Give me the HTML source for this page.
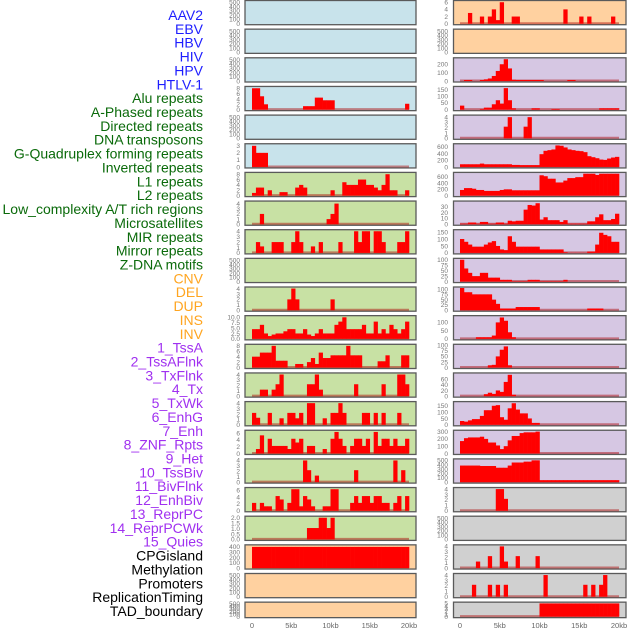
<!DOCTYPE html>
<html><head><meta charset="utf-8"><style>
html,body{margin:0;padding:0;background:#fff;}
svg{display:block;font-family:"Liberation Sans",sans-serif;}
</style></head><body>
<svg id="chart" width="630" height="630" viewBox="0 0 630 630" xmlns="http://www.w3.org/2000/svg"></svg>
<script>
const labels = ["AAV2","EBV","HBV","HIV","HPV","HTLV-1","Alu repeats","A-Phased repeats","Directed repeats","DNA transposons","G-Quadruplex forming repeats","Inverted repeats","L1 repeats","L2 repeats","Low_complexity A/T rich regions","Microsatellites","MIR repeats","Mirror repeats","Z-DNA motifs","CNV","DEL","DUP","INS","INV","1_TssA","2_TssAFlnk","3_TxFlnk","4_Tx","5_TxWk","6_EnhG","7_Enh","8_ZNF_Rpts","9_Het","10_TssBiv","11_BivFlnk","12_EnhBiv","13_ReprPC","14_ReprPCWk","15_Quies","CPGisland","Methylation","Promoters","ReplicationTiming","TAD_boundary"];
const labelGroups = ["v","v","v","v","v","v","r","r","r","r","r","r","r","r","r","r","r","r","r","s","s","s","s","s","c","c","c","c","c","c","c","c","c","c","c","c","c","c","c","k","k","k","k","k"];
const xTickValues = [0,5,10,15,20];
const xTickLabels = ["0","5kb","10kb","15kb","20kb"];

const L3 = [8,8,5,2,0,0,0,0,0,0, 0,0,0,1.3,1.3,1.3,4.5,4.5,3.5,3.5, 3.5,0,0,0,0,0,0,0,0,0, 0,0,0,0,0,0,0,0,0,2.2];
const L5 = [3,2,2,2,0,0,0,0,0,0, 0,0,0,0,0,0,0,0,0,0, 0,0,0,0,0,0,0,0,0,0, 0,0,0,0,0,0,0,0,0,0];
const L6 = [1,3,3,0,2,0,0,1.3,1.3,0, 0,3,4,3,0,0,0,0,0,0, 2,0,0,5,4,4,4,6,6,4, 4,3,2,4,8,2,2,0,0,2];
const L7 = [0,0,2,0,0,0,0,0,0,0, 0,0,0,0,0,0,0,0,0,1, 2,4,0,0,0,0,0,0,0,0, 0,0,0,0,0,0,0,0,0,0];
const L8 = [0,2,1.2,0,0,2,2,2,0,0, 2,4,2,0,0,1.2,0,2,0,0, 0,0,2,0,0,0,4,2,4,4, 0,4,4,2,0,0,0,2,2,4];
const L10 = [0,0,0,0,0,0,0,0,0,2, 4,2,0,0,0,0,0,0,0,0, 2,0,0,0,0,0,0,0,0,0, 0,0,0,0,0,0,0,0,0,0];
const L11 = [4.5,4.5,6.5,2.5,1.3,2,2.5,2.5,3.5,4.5, 4.5,2.5,2.5,4.5,2,1.3,2.5,4.5,2.5,2.5, 2.5,6.5,8,10,4.5,4.5,4.5,4.5,6.5,2.5, 2.5,8,2.5,4.5,2.5,6.5,4.5,2.5,4.5,8];
const L12 = [4,4,5.5,5.5,5.5,8,2.5,2.5,2.5,0, 0,1.3,1.3,0,2,3.5,1.3,5.5,3.5,3.5, 4.5,4.5,4.5,4.5,8,4.5,4.5,4.5,0,0, 0,0,2.3,2.3,4.5,0,0,0,4.5,4.5];
const L13 = [0,0,1.2,1.2,0,1.2,2.2,4,0,0, 0,0,0,0,2.2,2.2,4,1.2,0,0, 0,0,0,0,0,0,2.2,0,0,0, 0,0,0,2.2,0,0,0,4,4,2.2];
const L14 = [2.2,1.3,0,0,2.2,0,0,1.2,0,2.2, 2.2,1.2,2.2,0,4,4,0,0,1.2,0, 2.2,2.2,4,2.2,0,0,0,0,2.2,2.2, 0,2.2,0,2.2,0,0,0,2.2,0,0];
const L15 = [0,1.3,5.3,0,4.3,2.2,2.2,2.2,2.2,1.3, 4.3,3.2,4.3,0,2.2,2.2,0,0,1.3,0, 4.3,6.3,4.3,2.2,0,2.2,4.3,4.3,2.2,4.3, 0,6.3,2.2,4.3,4.3,2.2,4.3,2.2,2.2,4.3];
const L16 = [0,0,0,0,0,0,0,0,0,0, 0,0,0,4,2.2,0,1.2,0,0,0, 0,0,0,0,0,0,2.2,0,0,0, 0,0,0,0,0,0,4,0,2.2,0];
const L17 = [2.3,0,2.3,1.3,1.3,0,4.3,3.3,0,2.3, 6.3,6.3,1.3,4.3,3.3,1.3,0,0,1.3,1.3, 6.3,6.3,0,0,0,2.3,4.3,2.3,4.3,4.3, 2.3,4.3,4.3,2.3,2.3,0,2.3,4.3,0,4.3];
const L18 = [0,0,0,0,0,0,0,0,0,0, 0,0,0,0,1.05,1.05,1.05,2,2,1.05, 2,0,0,0,0,0,0,0,0,0, 0,0,0,0,0,0,0,0,0,0];
const L19 = [400,400,400,400,400,400,400,400,400,400, 400,400,400,400,400,400,400,400,400,400, 400,400,400,400,400,400,400,400,400,400, 400,400,400,400,400,400,400,400,400,400];

const R0 = [0,0,3,0,0,2,0,2,4,1, 6,0,0,2,2,0,0,0,0,0, 0,0,0,0,0,0,4,0,0,0, 2,0,2,0,0,0,0,0,2,0];
const R2 = [0,12,12,0,0,12,20,30,60,120, 200,260,150,15,12,12,12,12,12,12, 12,0,0,0,0,0,0,12,12,0, 0,0,0,0,0,0,0,0,0,0];
const R3 = [30,0,0,0,0,5,15,15,40,70, 45,160,70,10,0,0,0,0,10,10, 0,0,0,5,5,0,0,0,0,0, 0,0,0,0,0,10,10,10,10,10];
const R4 = [0,0,0,0,0,0,0,0,0,0, 0,2.2,4,0,0,0,2.2,4,0,0, 0,0,0,0,0,0,0,0,0,0, 0,0,0,0,0,0,0,0,0,0];
const R5 = [80,80,80,80,80,100,80,80,80,80, 80,80,80,60,60,55,55,55,55,55, 380,480,500,520,640,630,580,520,500,480, 470,440,320,290,260,220,210,250,280,300];
const R6 = [180,240,240,220,180,180,150,150,150,150, 180,200,200,170,170,170,170,170,170,170, 650,620,540,540,420,420,480,560,560,590, 590,700,700,700,660,700,700,700,700,700];
const R7 = [1,1,3,3,1,4,4,1,1,3, 3,1,6,5,6,6,25,33,32,36, 8,12,7,7,7,4,7,1,1,1, 1,1,5,5,12,17,7,7,9,18];
const R8 = [100,80,60,45,45,45,60,75,85,50, 25,20,120,80,45,45,45,45,45,45, 25,25,25,25,25,25,5,1,1,1, 1,1,10,10,60,145,130,120,80,80];
const R9 = [100,60,40,25,25,40,40,18,18,18, 8,8,8,2,2,2,2,8,8,8, 2,2,2,2,2,2,8,0,0,0, 0,0,0,0,0,0,0,0,0,0];
const R10 = [105,85,85,75,75,75,75,75,50,30, 8,8,8,8,15,15,15,15,15,15, 0,0,0,0,0,0,0,0,0,0, 0,0,8,8,8,8,0,0,0,0];
const R11 = [0,0,0,0,10,10,10,10,20,100, 130,110,40,10,0,0,0,0,0,0, 0,0,0,0,0,0,0,0,0,0, 0,0,0,0,0,0,0,0,0,0];
const R12 = [0,0,0,0,0,0,0,10,12,50, 80,95,10,0,0,0,0,0,0,0, 0,0,0,0,0,0,0,0,0,0, 0,0,0,0,0,0,0,0,0,0];
const R13 = [0,0,0,0,0,0,7,12,8,20, 15,50,75,5,0,0,0,0,0,0, 0,0,0,0,0,0,0,0,0,0, 0,0,0,0,0,0,0,0,0,0];
const R14 = [30,25,35,45,45,70,115,115,150,155, 60,40,130,170,120,90,90,50,15,15, 0,0,0,0,0,0,0,0,0,0, 0,0,0,0,0,0,0,0,0,0];
const R15 = [170,210,220,220,220,230,200,150,150,110, 60,100,180,240,240,280,290,290,290,300, 0,0,0,0,0,0,0,0,0,0, 0,0,0,0,0,0,0,0,0,0];
const R16 = [380,380,380,380,380,370,370,370,370,330, 330,330,380,450,450,450,470,470,500,500, 45,45,45,45,45,45,45,45,45,45, 45,45,45,45,45,45,45,45,45,45];
const R17 = [0,0,0,0,0,0,0,0,0,4, 4,2.2,0,0,0,0,0,0,0,0, 0,0,0,0,0,0,0,0,0,0, 0,0,0,0,0,0,0,0,0,0];
const R19 = [0,0,0,0,1.2,0,0,2.2,0,0, 4,1.2,0,0,2.2,0,0,0,0,2.2, 0,0,0,0,0,0,0,0,0,0, 0,0,0,0,0,0,0,0,0,0];
const R20 = [0,0,0,2.2,0,0,0,2.2,0,2.2, 0,2.2,0,0,0,0,0,0,0,0, 0,4,0,0,0,0,0,0,0,0, 0,2.2,0,2.2,0,2.2,4,0,0,0];
const R21 = [0,0,0,0,0,0,0,0,0,0, 0,0,0,0,0,0,0,0,0,0, 5,5,5,5,5,5,5,5,5,5, 5,5,5,5,5,5,5,5,5,5];

const T500 = [0,100,200,300,400,500];
const leftPanels = [
 {bg:"b",ticks:T500,ymax:520,data:null},
 {bg:"b",ticks:T500,ymax:520,data:null},
 {bg:"b",ticks:T500,ymax:520,data:null},
 {bg:"b",ticks:[0,2,4,6,8],ymax:8.3,data:L3},
 {bg:"b",ticks:T500,ymax:520,data:null},
 {bg:"b",ticks:[0,1,2,3],ymax:3.15,data:L5},
 {bg:"g",ticks:[0,2,4,6,8],ymax:8.3,data:L6},
 {bg:"g",ticks:[0,1,2,3,4],ymax:4.3,data:L7},
 {bg:"g",ticks:[0,1,2,3,4],ymax:4.1,data:L8},
 {bg:"g",ticks:T500,ymax:520,data:null},
 {bg:"g",ticks:[0,1,2,3,4],ymax:4.1,data:L10},
 {bg:"g",ticks:[0,2.5,5,7.5,10],fix:1,ymax:10.3,data:L11},
 {bg:"g",ticks:[0,2,4,6,8],ymax:8.2,data:L12},
 {bg:"g",ticks:[0,1,2,3,4],ymax:4.1,data:L13},
 {bg:"g",ticks:[0,1,2,3,4],ymax:4.1,data:L14},
 {bg:"g",ticks:[0,2,4,6],ymax:6.5,data:L15},
 {bg:"g",ticks:[0,1,2,3,4],ymax:4.1,data:L16},
 {bg:"g",ticks:[0,2,4,6],ymax:6.5,data:L17},
 {bg:"g",ticks:[0,0.5,1,1.5,2],fix:1,ymax:2.05,data:L18},
 {bg:"o",ticks:[0,100,200,300,400],ymax:420,data:L19},
 {bg:"o",ticks:T500,ymax:520,data:null},
 {bg:"o",ticks:T500,ymax:520,data:null}
];
const rightPanels = [
 {bg:"o",ticks:[0,2,4,6],ymax:6.2,data:R0},
 {bg:"o",ticks:T500,ymax:520,data:null},
 {bg:"p",ticks:[0,100,200],ymax:265,data:R2},
 {bg:"p",ticks:[0,50,100,150],ymax:165,data:R3},
 {bg:"p",ticks:[0,1,2,3,4],ymax:4.2,data:R4},
 {bg:"p",ticks:[0,200,400,600],ymax:660,data:R5},
 {bg:"p",ticks:[0,200,400,600],ymax:710,data:R6},
 {bg:"p",ticks:[0,10,20,30],ymax:38,data:R7},
 {bg:"p",ticks:[0,50,100,150],ymax:160,data:R8},
 {bg:"p",ticks:[0,25,50,75,100],ymax:102,data:R9},
 {bg:"p",ticks:[0,25,50,75,100],ymax:105,data:R10},
 {bg:"p",ticks:[0,50,100],ymax:135,data:R11},
 {bg:"p",ticks:[0,25,50,75,100],ymax:100,data:R12},
 {bg:"p",ticks:[0,20,40,60],ymax:78,data:R13},
 {bg:"p",ticks:[0,50,100,150],ymax:175,data:R14},
 {bg:"p",ticks:[0,100,200,300],ymax:305,data:R15},
 {bg:"p",ticks:[0,100,200,300,400,500],ymax:510,data:R16},
 {bg:"k",ticks:[0,1,2,3,4],ymax:4.1,data:R17},
 {bg:"k",ticks:T500,ymax:520,data:null},
 {bg:"k",ticks:[0,1,2,3,4],ymax:4.1,data:R19},
 {bg:"k",ticks:[0,1,2,3,4],ymax:4.1,data:R20},
 {bg:"k",ticks:[0,1,2,3,4,5],ymax:5.1,data:R21}
];

const NS = "http://www.w3.org/2000/svg";
const svg = document.getElementById("chart");
const bgColors = {b:"#c8e3eb",g:"#c8e1a4",o:"#ffd1a0",p:"#d6c7e3",k:"#d0d0d0"};
const labelColors = {v:"#1e1eff",r:"#0a6a0a",s:"#ffa520",c:"#a030f0",k:"#000000"};
function mk(tag, attrs){const e=document.createElementNS(NS,tag);for(const k in attrs)e.setAttribute(k,attrs[k]);svg.appendChild(e);return e;}

labels.forEach((t,i)=>{
  const e = mk("text",{x:203,y:15+13.86*i+5,"text-anchor":"end","font-size":"14",fill:labelColors[labelGroups[i]]});
  e.textContent = t;
  
  
});

function drawColumn(panels, side){
  const px0 = side==="left"?245:453.5, px1 = side==="left"?416:626;
  const x0 = side==="left"?252:460, kbW = side==="left"?7.85:7.95;
  const tickX = side==="left"?240:448;
  const xScale = kb => x0 + kb*kbW;
  panels.forEach((p,i)=>{
    const top = 28.65*i + 0.5;
    const h = i===21 ? 15.5 : 24.2;
    const bottom = top + h;
    const yScale = v => (bottom-1) - Math.min(v,p.ymax)/p.ymax*(h-2);
    const r = mk("rect",{x:px0,y:top,width:px1-px0,height:h,fill:bgColors[p.bg],stroke:"#5a5a5a","stroke-width":"1.3"});
    
    
    p.ticks.forEach(tv=>{
      const tt = mk("text",{x:tickX,y:yScale(tv)+2.3,"text-anchor":"end","font-size":"6.5",fill:"#777"});
      tt.textContent = p.fix ? tv.toFixed(1) : String(tv);
      
      
    });
    if(p.data){
      const bl = mk("line",{x1:xScale(0),x2:xScale(20),y1:bottom-1.5,y2:bottom-1.5,stroke:"rgba(170,0,0,0.45)","stroke-width":"2"});
      
      
      p.data.forEach((v,j)=>{
        if(v<=0) return;
        const xa = xScale(j*0.5), xb = xScale((j+1)*0.5);
        const ya = yScale(v);
        const b = mk("rect",{x:xa,y:ya,width:xb-xa+0.3,height:(bottom-1)-ya,fill:"#ff0000"});
        
        
      });
    }
  });
  xTickValues.forEach((kb,k)=>{
    const t = mk("text",{x:xScale(kb),y:628,"text-anchor":"middle","font-size":"7.5",fill:"#666"});
    t.textContent = xTickLabels[k];
    
    
  });
}
drawColumn(leftPanels,"left");
drawColumn(rightPanels,"right");
</script>
</body></html>
